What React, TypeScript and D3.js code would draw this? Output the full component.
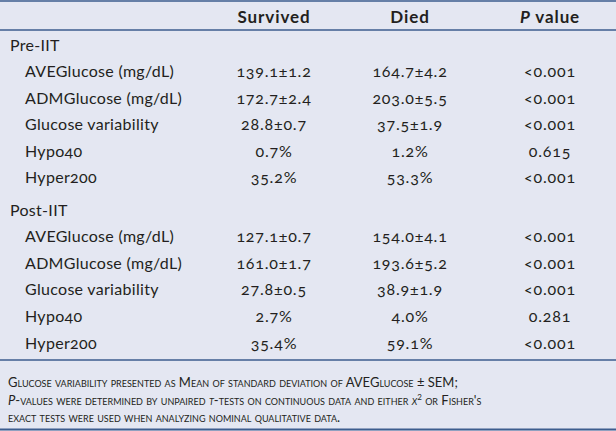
import React from "react";
import * as d3 from "d3";

const columns = ["Survived", "Died", "P value"];
const groups = ["Pre-IIT", "Post-IIT"];
const rowLabels = ["AVEGlucose (mg/dL)", "ADMGlucose (mg/dL)", "Glucose variability", "Hypo40", "Hyper200"];
const preSurvived = ["139.1±1.2", "172.7±2.4", "28.8±0.7", "0.7%", "35.2%"];
const preDied = ["164.7±4.2", "203.0±5.5", "37.5±1.9", "1.2%", "53.3%"];
const preP = ["<0.001", "<0.001", "<0.001", "0.615", "<0.001"];
const postSurvived = ["127.1±0.7", "161.0±1.7", "27.8±0.5", "2.7%", "35.4%"];
const postDied = ["154.0±4.1", "193.6±5.2", "38.9±1.9", "4.0%", "59.1%"];
const postP = ["<0.001", "<0.001", "<0.001", "0.281", "<0.001"];

const W = 616, H = 431;
const BG = "#e4e7f2";
const LINE = "#3d5d8e";
const TXT = "#231f20";
const FONT = "Lato, 'Open Sans', sans-serif";

export default function App() {
  const colX = d3.scaleOrdinal<string, number>().domain(columns).range([274, 410, 550]);
  const preY = d3.scaleLinear().domain([0, 5]).range([50.5, 183]);
  const postY = d3.scaleLinear().domain([0, 5]).range([215.5, 348.5]);
  const blocks = [
    { g: groups[0], y: preY, vals: [preSurvived, preDied, preP] },
    { g: groups[1], y: postY, vals: [postSurvived, postDied, postP] },
  ];
  const num = { fontFeatureSettings: "'onum' 1" } as React.CSSProperties;
  return (
    <svg width={W} height={H} style={{ position: "absolute", left: 0, top: 0, display: "block" }} fontFamily={FONT}>
      <rect x={0} y={0} width={W} height={H} fill={BG} />
      <line x1={0} x2={W} y1={1} y2={1} stroke={LINE} strokeWidth={1.5} />
      <line x1={0} x2={W} y1={30} y2={30} stroke={LINE} strokeWidth={1.5} />
      <line x1={0} x2={W} y1={360} y2={360} stroke={LINE} strokeWidth={1.5} />
      <line x1={0} x2={W} y1={429.5} y2={429.5} stroke={LINE} strokeWidth={2} />
      {columns.map((c) => (
        <text key={c} x={colX(c)} y={23} textAnchor="middle" fontSize={17} fontWeight={700} fill={TXT} letterSpacing={0.9}>
          {c === "P value" ? (<><tspan fontStyle="italic">P</tspan> value</>) : c}
        </text>
      ))}
      {blocks.map((b) => (
        <g key={b.g}>
          <text x={10} y={b.y(0)} fontSize={16} fill={TXT} letterSpacing={0.3}>{b.g}</text>
          {rowLabels.map((r, i) => (
            <g key={r}>
              <text x={25} y={b.y(i + 1)} fontSize={16} fill={TXT} letterSpacing={0.3} style={num}>{r}</text>
              {columns.map((c, j) => (
                <text key={c} x={colX(c)} y={b.y(i + 1)} textAnchor="middle" fontSize={16} fill={TXT} letterSpacing={0.8} style={num}>
                  {b.vals[j][i]}
                </text>
              ))}
            </g>
          ))}
        </g>
      ))}
      <g fontSize={13} fill={TXT} style={{ fontVariant: "small-caps" }}>
        <text x={8} y={387}>Glucose variability presented as Mean of standard deviation of AVEGlucose ± SEM;</text>
        <text x={8} y={405}>
          <tspan fontStyle="italic">P</tspan>-values were determined by unpaired <tspan fontStyle="italic">t</tspan>-tests on continuous data and either <tspan fontStyle="italic">χ</tspan><tspan fontSize={8} dy={-5}>2</tspan><tspan dy={5}> or Fisher's</tspan>
        </text>
        <text x={8} y={422}>exact tests were used when analyzing nominal qualitative data.</text>
      </g>
    </svg>
  );
}
